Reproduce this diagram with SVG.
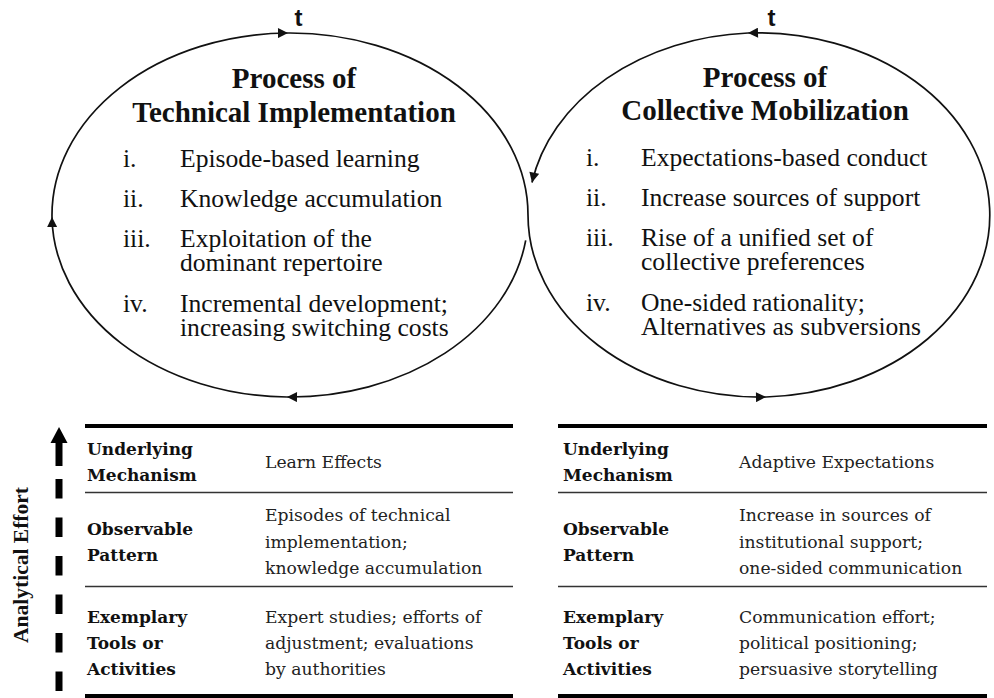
<svg xmlns="http://www.w3.org/2000/svg" width="994" height="698" viewBox="0 0 994 698">
  <style>
    .bg { fill: #ffffff; }
    .cycle { fill: none; stroke: #111; stroke-width: 1.7; marker-end: url(#arrow); }
    .tlabel { font-family: "Liberation Sans", Arial, sans-serif; font-weight: bold; font-size: 24px; fill: #111; text-anchor: middle; }
    .head { font-family: "Liberation Serif", "Times New Roman", serif; font-weight: bold; font-size: 29px; fill: #111; text-anchor: middle; }
    .item { font-family: "Liberation Serif", "Times New Roman", serif; font-size: 25.6px; fill: #111; }
    .axis { font-family: "Liberation Serif", "Times New Roman", serif; font-weight: bold; font-size: 21.5px; fill: #111; text-anchor: middle; }
    .rowhead { font-family: "DejaVu Serif", "Liberation Serif", serif; font-weight: bold; font-size: 17px; fill: #111; }
    .cell { font-family: "DejaVu Serif", "Liberation Serif", serif; font-size: 17.2px; fill: #222; }
    .rule-thick { stroke: #000; stroke-width: 4; }
    .rule-thin { stroke: #333; stroke-width: 1.5; }
  </style>
  <defs>
    <marker id="arrow" viewBox="0 0 10 10" refX="10" refY="5" markerWidth="12" markerHeight="10" markerUnits="userSpaceOnUse" orient="auto">
      <path d="M0,0 L10,5 L0,10 z" fill="#111"/>
    </marker>
  </defs>

  <rect class="bg" x="0" y="0" width="994" height="698"/>

  <!-- cycle: left loop then right loop, one continuous stroke split at each arrowhead -->
  <g id="cycle-connectors">
    <path class="cycle" d="M525.7,240.3 A238,182 0 0 1 287,397"/>
    <path class="cycle" d="M287,397 A238,182 0 0 1 52,217"/>
    <path class="cycle" d="M52,217 A238,182 0 0 1 288,33"/>
    <path class="cycle" style="marker-end:none" d="M288,33 A238,182 0 0 1 528,215"/>
    <path class="cycle" d="M528,215 A232.5,182 0 0 0 766,397"/>
    <path class="cycle" d="M766,397 A232.5,182 0 1 0 748,33"/>
    <path class="cycle" d="M748,33 A232.5,182 0 0 0 532,182.5"/>
    <text class="tlabel" x="298.5" y="26">t</text>
    <text class="tlabel" x="771.5" y="26">t</text>
  </g>

  <g id="process-technical">
    <text class="head" x="294" y="88">Process of</text>
    <text class="head" x="294" y="122">Technical Implementation</text>
    <text class="item" x="123" y="167">i.</text>
    <text class="item" x="180" y="167">Episode-based learning</text>
    <text class="item" x="123" y="207">ii.</text>
    <text class="item" x="180" y="207">Knowledge accumulation</text>
    <text class="item" x="123" y="247">iii.</text>
    <text class="item" x="180" y="247">Exploitation of the</text>
    <text class="item" x="180" y="271">dominant repertoire</text>
    <text class="item" x="123" y="312">iv.</text>
    <text class="item" x="180" y="312">Incremental development;</text>
    <text class="item" x="180" y="336">increasing switching costs</text>
  </g>

  <g id="process-collective">
    <text class="head" x="765" y="87">Process of</text>
    <text class="head" x="765" y="120">Collective Mobilization</text>
    <text class="item" x="586" y="166">i.</text>
    <text class="item" x="641" y="166">Expectations-based conduct</text>
    <text class="item" x="586" y="206">ii.</text>
    <text class="item" x="641" y="206">Increase sources of support</text>
    <text class="item" x="586" y="246">iii.</text>
    <text class="item" x="641" y="246">Rise of a unified set of</text>
    <text class="item" x="641" y="270">collective preferences</text>
    <text class="item" x="586" y="311">iv.</text>
    <text class="item" x="641" y="311">One-sided rationality;</text>
    <text class="item" x="641" y="335">Alternatives as subversions</text>
  </g>

  <!-- vertical effort axis: solid head, dashed shaft -->
  <g id="effort-axis">
    <polygon points="59,427 67.5,443 50.5,443" fill="#000"/>
    <line x1="59" y1="441" x2="59" y2="466" stroke="#000" stroke-width="7"/>
    <line x1="59" y1="479" x2="59" y2="692" stroke="#000" stroke-width="7" stroke-dasharray="19.5 19"/>
    <text class="axis" transform="translate(28,565) rotate(-90)">Analytical Effort</text>
  </g>

  <g id="table-technical">
    <line class="rule-thick" x1="85" y1="426" x2="513" y2="426"/>
    <line class="rule-thin" x1="85" y1="492.5" x2="513" y2="492.5"/>
    <line class="rule-thin" x1="85" y1="586.5" x2="513" y2="586.5"/>
    <line class="rule-thick" x1="85" y1="696" x2="513" y2="696"/>
    <text class="rowhead" x="87" y="455">Underlying</text>
    <text class="rowhead" x="87" y="481">Mechanism</text>
    <text class="cell" x="265" y="468">Learn Effects</text>
    <text class="rowhead" x="87" y="535">Observable</text>
    <text class="rowhead" x="87" y="561">Pattern</text>
    <text class="cell" x="265" y="521">Episodes of technical</text>
    <text class="cell" x="265" y="548">implementation;</text>
    <text class="cell" x="265" y="574">knowledge accumulation</text>
    <text class="rowhead" x="87" y="623">Exemplary</text>
    <text class="rowhead" x="87" y="649">Tools or</text>
    <text class="rowhead" x="87" y="675">Activities</text>
    <text class="cell" x="265" y="623">Expert studies; efforts of</text>
    <text class="cell" x="265" y="649">adjustment; evaluations</text>
    <text class="cell" x="265" y="675">by authorities</text>
  </g>

  <g id="table-collective">
    <line class="rule-thick" x1="558" y1="426" x2="987" y2="426"/>
    <line class="rule-thin" x1="558" y1="492.5" x2="987" y2="492.5"/>
    <line class="rule-thin" x1="558" y1="586.5" x2="987" y2="586.5"/>
    <line class="rule-thick" x1="558" y1="696" x2="987" y2="696"/>
    <text class="rowhead" x="563" y="455">Underlying</text>
    <text class="rowhead" x="563" y="481">Mechanism</text>
    <text class="cell" x="739" y="468">Adaptive Expectations</text>
    <text class="rowhead" x="563" y="535">Observable</text>
    <text class="rowhead" x="563" y="561">Pattern</text>
    <text class="cell" x="739" y="521">Increase in sources of</text>
    <text class="cell" x="739" y="548">institutional support;</text>
    <text class="cell" x="739" y="574">one-sided communication</text>
    <text class="rowhead" x="563" y="623">Exemplary</text>
    <text class="rowhead" x="563" y="649">Tools or</text>
    <text class="rowhead" x="563" y="675">Activities</text>
    <text class="cell" x="739" y="623">Communication effort;</text>
    <text class="cell" x="739" y="649">political positioning;</text>
    <text class="cell" x="739" y="675">persuasive storytelling</text>
  </g>
</svg>
